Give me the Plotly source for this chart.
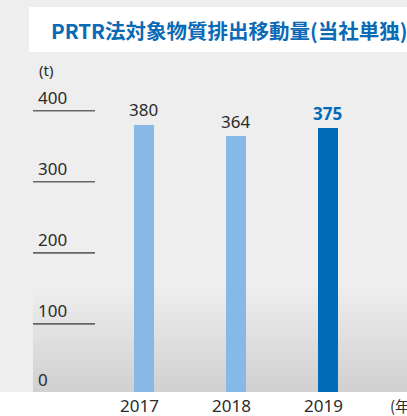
import plotly.graph_objects as go

# ---- data ----
years = ["2017", "2018", "2019"]
values = [380, 364, 375]
bar_colors = ["#86b9e7", "#86b9e7", "#006bb6"]
label_colors = ["#2b2b2b", "#2b2b2b", "#006bb6"]
label_bold = [False, False, True]
ytick_vals = [0, 100, 200, 300, 400]
ytick_text = ["0", "100", "200", "300", "400"]
title_text = "PRTR法対象物質排出移動量(当社単独)"
unit_y = "(t)"
unit_x = "(年)"

W, H = 407, 416

def px(x):
    return x / W

def py(y):
    return 1 - y / H

# pixel calibration: value 0 at y=395px, 400 at y=110.7px
scale = (395 - 110.7) / 400.0
y_lo = -(H - 395) / scale
y_hi = 395 / scale

# category axis calibration: centers ~143.7 + 92*i px
step = 92.0
c0 = 143.7
x_lo = -c0 / step
x_hi = (W - c0) / step

fig = go.Figure()
fig.add_trace(go.Bar(
    x=years, y=values, marker=dict(color=bar_colors, line=dict(width=0)),
    width=20 / step, hoverinfo="skip", showlegend=False,
))

shapes = []
# gradient background region
g_top, g_bot = 288, 392
n = 26
c_top, c_bot = 238, 208
for i in range(n):
    y0 = g_top + (g_bot - g_top) * i / n
    y1 = g_top + (g_bot - g_top) * (i + 1) / n
    c = round(c_top + (c_bot - c_top) * (i + 0.5) / n)
    shapes.append(dict(type="rect", xref="paper", yref="paper",
                       x0=px(33), x1=1, y0=py(y1), y1=py(y0),
                       fillcolor=f"rgb({c},{c},{c})", line=dict(width=0), layer="below"))
# title box
shapes.append(dict(type="rect", xref="paper", yref="paper",
                   x0=px(29), x1=1, y0=py(52), y1=py(7),
                   fillcolor="white", line=dict(width=0), layer="below"))
# grid stubs
for v in ytick_vals:
    if v == 0:
        continue
    shapes.append(dict(type="line", xref="paper", yref="y",
                       x0=px(33), x1=px(95), y0=v, y1=v,
                       line=dict(color="#666666", width=1.6), layer="above"))
# white bottom strip
shapes.append(dict(type="rect", xref="paper", yref="paper",
                   x0=0, x1=1, y0=0, y1=py(392),
                   fillcolor="white", line=dict(width=0), layer="above"))

annotations = []
num_font = "Noto Sans, Open Sans, sans-serif"
# y tick labels
for v, t in zip(ytick_vals, ytick_text):
    annotations.append(dict(xref="paper", yref="y", x=px(36), y=v, text=t,
                            showarrow=False, xanchor="left", yanchor="middle",
                            yshift=13 if v else 16,
                            font=dict(family=num_font, size=17, color="#2b2b2b")))
annotations.append(dict(xref="paper", yref="paper", x=px(37), y=py(70), text=unit_y,
                        showarrow=False, xanchor="left", yanchor="middle",
                        font=dict(family=num_font, size=15, color="#2b2b2b")))
# value labels (category index positions)
for i, (v, col, b) in enumerate(zip(values, label_colors, label_bold)):
    annotations.append(dict(xref="x", yref="y", x=i, y=v,
                            text=f"<b>{v}</b>" if b else str(v),
                            showarrow=False, xanchor="center", yanchor="middle", yshift=15,
                            font=dict(family=num_font, size=17, color=col)))
# x labels
for i, yr in enumerate(years):
    annotations.append(dict(xref="x", yref="paper", x=i, y=py(405), text=yr,
                            showarrow=False, xanchor="center", yanchor="middle", xshift=-4,
                            font=dict(family=num_font, size=17, color="#2b2b2b")))
annotations.append(dict(xref="paper", yref="paper", x=px(388), y=py(405), text=unit_x,
                        showarrow=False, xanchor="left", yanchor="middle",
                        font=dict(family="Noto Sans CJK JP, sans-serif", size=15, color="#2b2b2b")))
# title
annotations.append(dict(xref="paper", yref="paper", x=px(49), y=py(30), text=f"<b>{title_text}</b>",
                        showarrow=False, xanchor="left", yanchor="middle",
                        font=dict(family="Noto Sans CJK JP, sans-serif", size=20.5, color="#0a6ab5")))

fig.update_layout(
    width=W, height=H,
    margin=dict(l=0, r=0, t=0, b=0),
    paper_bgcolor="#eeeeee", plot_bgcolor="rgba(0,0,0,0)",
    xaxis=dict(type="category", range=[x_lo, x_hi], visible=False, fixedrange=True),
    yaxis=dict(range=[y_lo, y_hi], visible=False, fixedrange=True),
    shapes=shapes, annotations=annotations, bargap=0,
)

fig.write_html("out.html", config={"displayModeBar": False},
               post_script="document.body.style.margin='0';document.body.style.overflow='hidden';")
